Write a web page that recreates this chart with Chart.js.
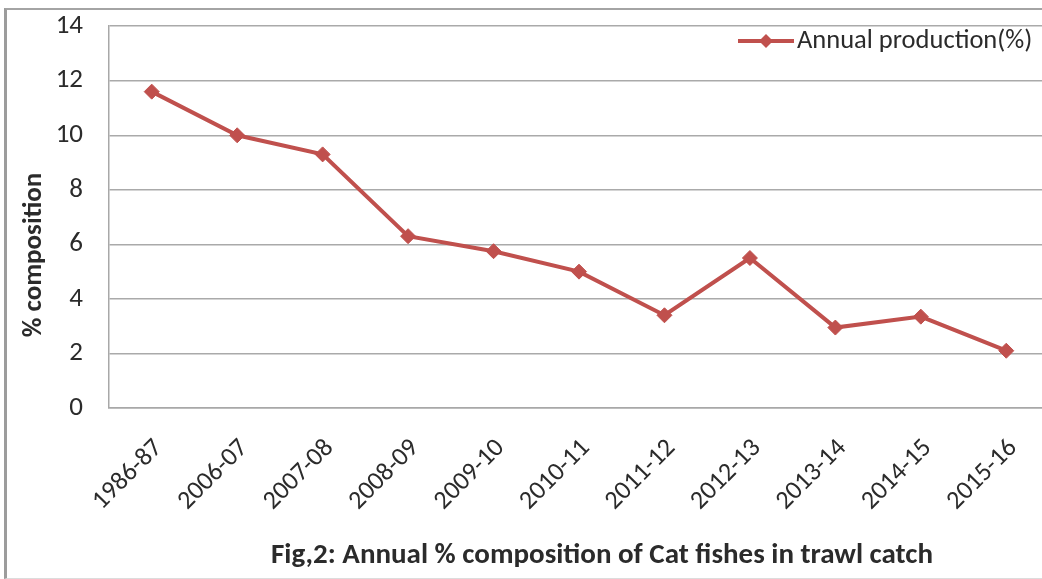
<!DOCTYPE html>
<html>
<head>
<meta charset="utf-8">
<script src="https://cdn.jsdelivr.net/npm/chart.js@4.4.1/dist/chart.umd.min.js"></script>
<style>
  html, body { margin: 0; padding: 0; background: #fff; overflow: hidden; }
  #wrap { position: relative; width: 1042px; height: 579px; overflow: hidden; background: #fff; }
  #frame {
    position: absolute; left: 4px; top: 8px; width: 1100px; height: 568px;
    border-left: 3px solid #9c9c9c; border-top: 2px solid #a4a4a4; border-bottom: 1px solid #dcdcdc;
  }
  /* canvas is taller than the page and lifted so the plot sits close to the frame */
  #box { position: absolute; left: 0; top: -16px; width: 1060px; height: 595px; }
</style>
</head>
<body>
<div id="wrap">
  <div id="frame"></div>
  <div id="box"><canvas id="c" width="1060" height="595"></canvas></div>
</div>
<script>
// Catfish share of trawl catch by season
const seasons = ['1986-87', '2006-07', '2007-08', '2008-09', '2009-10', '2010-11',
                 '2011-12', '2012-13', '2013-14', '2014-15', '2015-16'];
const annualProduction = [11.6, 10.0, 9.3, 6.3, 5.75, 5.0, 3.4, 5.5, 2.95, 3.35, 2.1];
const yTicks = [0, 2, 4, 6, 8, 10, 12, 14];
const seriesName = 'Annual production(%)';
const yTitle = '% composition';
const caption = 'Fig,2: Annual % composition of Cat fishes in trawl catch';

const RED = '#C0504D';
const TEXT = '#2b2b2b';
const FONT = 'Carlito, Lato, "Liberation Sans", sans-serif';
const SHIFT = 16; // canvas offset above the page top

// Legend swatch (line + diamond), axis title and figure caption
const decorations = {
  id: 'decorations',
  afterDraw(chart) {
    const ctx = chart.ctx;
    ctx.save();
    ctx.translate(0, SHIFT);
    // legend
    const ly = 41;
    ctx.strokeStyle = RED;
    ctx.lineWidth = 4;
    ctx.beginPath();
    ctx.moveTo(738, ly);
    ctx.lineTo(794, ly);
    ctx.stroke();
    ctx.fillStyle = RED;
    ctx.beginPath();
    ctx.moveTo(766, ly - 7);
    ctx.lineTo(773, ly);
    ctx.lineTo(766, ly + 7);
    ctx.lineTo(759, ly);
    ctx.closePath();
    ctx.fill();
    ctx.fillStyle = TEXT;
    ctx.font = '26.5px ' + FONT;
    ctx.textAlign = 'left';
    ctx.textBaseline = 'middle';
    ctx.fillText(seriesName, 797, ly);
    // y-axis title
    ctx.save();
    ctx.translate(34, 255);
    ctx.rotate(-Math.PI / 2);
    ctx.font = 'bold 27px ' + FONT;
    ctx.textAlign = 'center';
    ctx.fillText(yTitle, 0, 0);
    ctx.restore();
    // caption
    ctx.font = 'bold 29px ' + FONT;
    ctx.textAlign = 'center';
    ctx.fillText(caption, 602, 556);
    ctx.restore();
  }
};

new Chart(document.getElementById('c'), {
  type: 'line',
  data: {
    labels: seasons,
    datasets: [{
      label: seriesName,
      data: annualProduction,
      borderColor: RED,
      backgroundColor: RED,
      borderWidth: 4,
      pointStyle: 'rectRot',
      pointRadius: 7.5,
      pointBorderWidth: 1,
      pointBorderColor: RED,
      pointBackgroundColor: RED,
      tension: 0
    }]
  },
  options: {
    responsive: false,
    animation: false,
    events: [],
    layout: { padding: { left: 0, right: 11, top: 9, bottom: 0 } },
    plugins: { legend: { display: false }, tooltip: { enabled: false } },
    scales: {
      x: {
        type: 'category',
        offset: true,
        grid: { display: false, drawTicks: false },
        border: { display: true, color: '#a8a8a8', width: 1.5 },
        ticks: {
          color: TEXT,
          font: { family: FONT, size: 26 },
          maxRotation: 45,
          minRotation: 45,
          autoSkip: false,
          padding: 25,
          labelOffset: 7
        },
        afterFit(scale) { scale.height = 171; }
      },
      y: {
        min: 0,
        max: 14,
        afterBuildTicks(scale) { scale.ticks = yTicks.map(v => ({ value: v })); },
        grid: { color: '#aaaaaa', lineWidth: 1.5, drawTicks: false },
        border: { display: true, color: '#a8a8a8', width: 1.5 },
        ticks: {
          color: TEXT,
          font: { family: FONT, size: 27 },
          padding: 26
        },
        afterFit(scale) { scale.width = 109; }
      }
    }
  },
  plugins: [decorations]
});
</script>
</body>
</html>
